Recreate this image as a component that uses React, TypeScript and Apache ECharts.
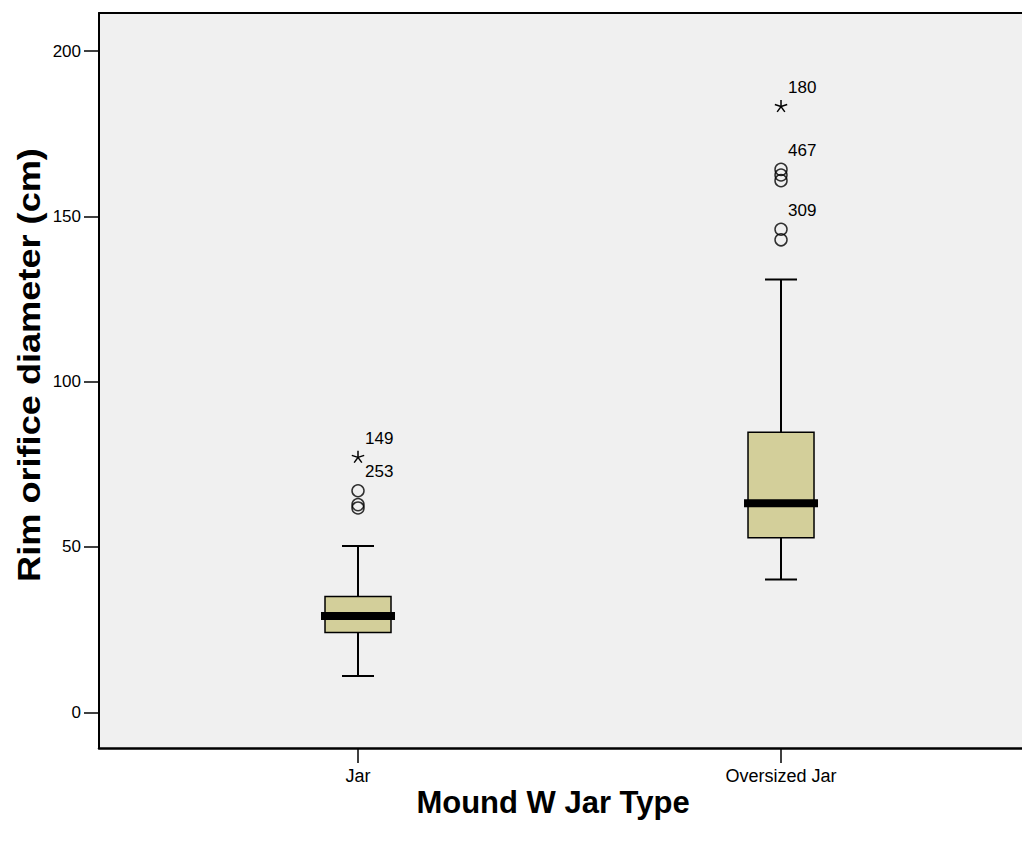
import React, { useEffect, useRef } from "react";
import * as echarts from "echarts";

const categories = ["Jar", "Oversized Jar"];
const categoryPos = [1, 2];
const whiskerLow = [11, 40.2];
const q1 = [24.1, 52.8];
const median = [29.1, 63.2];
const q3 = [35, 84.7];
const whiskerHigh = [50.3, 130.9];

const outlierCat = [0, 0, 0, 1, 1, 1, 1, 1];
const outlierValues = [67, 62.8, 61.8, 164.2, 162.5, 160.8, 146.1, 142.9];

const extremeCat = [0, 1];
const extremeValues = [77.1, 183.2];

const labelCat = [0, 0, 1, 1, 1];
const labelValues = [77.1, 67, 183.2, 164.2, 146.1];
const labelTexts = ["149", "253", "180", "467", "309"];

const yTicks = [0, 50, 100, 150, 200];

const FONT = "Arial, 'Liberation Sans', Helvetica, sans-serif";

export default function App() {
  const ref = useRef<HTMLDivElement>(null);
  useEffect(() => {
    if (!ref.current) return;
    const chart = echarts.init(ref.current, null, { renderer: "svg" });

    const boxData = categoryPos.map((x, i) => [x, whiskerLow[i], q1[i], median[i], q3[i], whiskerHigh[i]]);
    const outlierData = outlierValues.map((v, i) => [categoryPos[outlierCat[i]], v]);
    const extremeData = extremeValues.map((v, i) => [categoryPos[extremeCat[i]], v]);
    const labelData = labelValues.map((v, i) => [categoryPos[labelCat[i]], v, labelTexts[i]]);

    const option: any = {
      animation: false,
      backgroundColor: "#ffffff",
      grid: {
        left: 99,
        top: 13,
        right: 0,
        bottom: 95,
        show: true,
        backgroundColor: "#f0f0f0",
        borderWidth: 0,
      },
      xAxis: [
        {
          type: "value",
          min: 0.3877,
          max: 2.5697,
          position: "bottom",
          splitLine: { show: false },
          axisLine: { show: true, onZero: false, lineStyle: { color: "#000", width: 2.5 } },
          axisTick: { show: true, length: 15, customValues: categoryPos, lineStyle: { color: "#000", width: 1.5 } },
          axisLabel: {
            show: true,
            customValues: categoryPos,
            margin: 19,
            fontSize: 18,
            fontFamily: FONT,
            color: "#000",
            formatter: (v: number) => categories[categoryPos.indexOf(Math.round(v))] ?? "",
          },
        },
        {
          type: "value",
          min: 0.3877,
          max: 2.5697,
          position: "top",
          splitLine: { show: false },
          axisLine: { show: true, onZero: false, lineStyle: { color: "#000", width: 2 } },
          axisTick: { show: false },
          axisLabel: { show: false },
        },
      ],
      yAxis: {
        type: "value",
        min: -10.8,
        max: 211.5,
        splitLine: { show: false },
        axisLine: { show: true, onZero: false, lineStyle: { color: "#000", width: 2 } },
        axisTick: { show: true, length: 15, customValues: yTicks, lineStyle: { color: "#000", width: 1.5 } },
        axisLabel: {
          show: true,
          customValues: yTicks,
          margin: 18,
          fontSize: 17,
          fontFamily: FONT,
          color: "#000",
        },
      },
      graphic: [
        {
          type: "text",
          x: 553,
          y: 802,
          style: {
            text: "Mound W Jar Type",
            font: `bold 31px ${FONT}`,
            fill: "#000",
            align: "center",
            verticalAlign: "middle",
          },
        },
        {
          type: "text",
          x: 29,
          y: 365,
          rotation: Math.PI / 2,
          scaleX: 1.13,
          style: {
            text: "Rim orifice diameter (cm)",
            font: `bold 32px ${FONT}`,
            fill: "#000",
            align: "center",
            verticalAlign: "middle",
          },
        },
      ],
      series: [
        {
          type: "custom",
          xAxisIndex: 0,
          renderItem: (params: any, api: any) => {
            const x = api.value(0);
            const pLow = api.coord([x, api.value(1)]);
            const pQ1 = api.coord([x, api.value(2)]);
            const pMed = api.coord([x, api.value(3)]);
            const pQ3 = api.coord([x, api.value(4)]);
            const pHigh = api.coord([x, api.value(5)]);
            const cx = pLow[0];
            const halfBox = 33;
            const halfCap = 16;
            const halfMed = 37;
            const line = { stroke: "#000", lineWidth: 2 };
            return {
              type: "group",
              children: [
                { type: "line", shape: { x1: cx, y1: pHigh[1], x2: cx, y2: pQ3[1] }, style: line },
                { type: "line", shape: { x1: cx, y1: pQ1[1], x2: cx, y2: pLow[1] }, style: line },
                { type: "line", shape: { x1: cx - halfCap, y1: pHigh[1], x2: cx + halfCap, y2: pHigh[1] }, style: line },
                { type: "line", shape: { x1: cx - halfCap, y1: pLow[1], x2: cx + halfCap, y2: pLow[1] }, style: line },
                {
                  type: "rect",
                  shape: { x: cx - halfBox, y: pQ3[1], width: halfBox * 2, height: pQ1[1] - pQ3[1] },
                  style: { fill: "#d3cf9a", stroke: "#000", lineWidth: 1.5 },
                },
                {
                  type: "rect",
                  shape: { x: cx - halfMed, y: pMed[1] - 4, width: halfMed * 2, height: 8 },
                  style: { fill: "#000" },
                },
              ],
            };
          },
          data: boxData,
          z: 2,
        },
        {
          type: "scatter",
          xAxisIndex: 0,
          symbol: "circle",
          symbolSize: 12,
          itemStyle: { color: "rgba(0,0,0,0)", borderColor: "#000", borderWidth: 1.5 },
          data: outlierData,
          z: 3,
        },
        {
          type: "custom",
          xAxisIndex: 0,
          renderItem: (params: any, api: any) => {
            const p = api.coord([api.value(0), api.value(1)]);
            const r = 6.5;
            const children: any[] = [];
            for (let k = 0; k < 5; k++) {
              const a = -Math.PI / 2 + (k * 2 * Math.PI) / 5;
              children.push({
                type: "line",
                shape: { x1: p[0], y1: p[1], x2: p[0] + r * Math.cos(a), y2: p[1] + r * Math.sin(a) },
                style: { stroke: "#000", lineWidth: 1.5 },
              });
            }
            return { type: "group", children };
          },
          data: extremeData,
          z: 3,
        },
        {
          type: "custom",
          xAxisIndex: 0,
          renderItem: (params: any, api: any) => {
            const p = api.coord([api.value(0), api.value(1)]);
            return {
              type: "text",
              x: p[0] + 7,
              y: p[1] - 19,
              style: {
                text: labelTexts[params.dataIndex],
                font: `17px ${FONT}`,
                fill: "#000",
                align: "left",
                verticalAlign: "middle",
              },
            };
          },
          data: labelData,
          z: 4,
        },
      ],
    };
    chart.setOption(option);
    return () => chart.dispose();
  }, []);
  return (
    <div
      ref={ref}
      style={{ position: "fixed", left: 0, top: 0, width: 1022, height: 843 }}
    />
  );
}
